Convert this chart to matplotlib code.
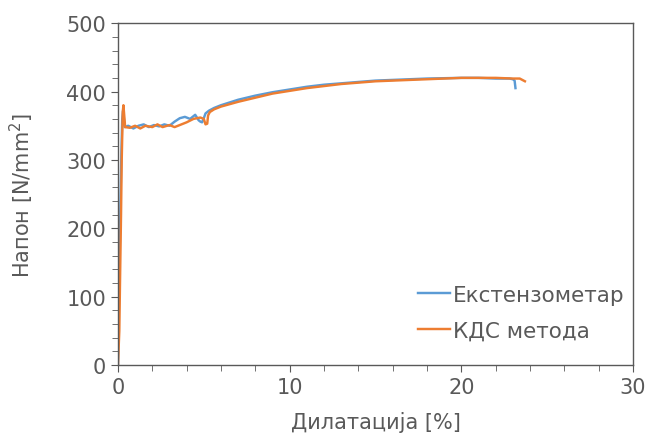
import numpy as np
import matplotlib.pyplot as plt
from matplotlib.ticker import MultipleLocator

# Екстензометар
ext_x = [0, 0.05, 0.1, 0.15, 0.2, 0.25, 0.3, 0.4, 0.6, 0.9, 1.2, 1.5, 1.8, 2.1, 2.4,
         2.7, 3.0, 3.3, 3.6, 3.9, 4.2, 4.5, 4.7, 4.8, 4.9, 5.0, 5.1, 5.3, 5.6, 6, 7,
         8, 9, 10, 11, 12, 13, 14, 15, 16, 17, 18, 19, 20, 21, 22, 22.8, 23.0,
         23.1, 23.15]
ext_y = [0, 80, 160, 240, 310, 360, 372, 348, 350, 346, 350, 352, 348, 351, 349,
         352, 350, 356, 361, 363, 360, 366, 358, 356, 355, 361, 368, 372, 376, 380,
         388, 394, 399, 403, 407, 410, 412, 414, 416, 417, 418, 419, 419.5, 420,
         420, 419, 419, 418, 416, 405]

# КДС метода
kds_x = [0, 0.08, 0.12, 0.18, 0.22, 0.28, 0.32, 0.42, 0.7, 1.0, 1.3, 1.6, 2.0,
         2.3, 2.6, 3.0, 3.3, 3.7, 4.0, 4.4, 4.8, 5.0, 5.1, 5.2, 5.25, 5.35, 5.6,
         6, 7, 8, 9, 10, 11, 12, 13, 14, 15, 16, 17, 18, 19, 20, 21, 22, 23,
         23.4, 23.7]
kds_y = [0, 50, 120, 220, 300, 370, 380, 348, 347, 350, 346, 350, 348, 352, 348,
         351, 348, 352, 355, 360, 362, 360, 352, 353, 365, 370, 374, 378, 385,
         391, 397, 401, 405, 408, 411, 413, 415, 416, 417, 418, 419, 420, 420,
         420, 419, 419, 415]

grey = "#595959"
plt.rcParams["font.family"] = "DejaVu Sans"

fig = plt.figure(figsize=(6.48, 4.39), dpi=100)
ax = fig.add_axes([0.182, 0.166, 0.795, 0.779])

ax.plot(ext_x, ext_y, color="#5B9BD5", lw=1.75, label="Екстензометар")
ax.plot(kds_x, kds_y, color="#ED7D31", lw=1.75, label="КДС метода")

ax.set_xlim(0, 30)
ax.set_ylim(0, 500)
ax.xaxis.set_major_locator(MultipleLocator(10))
ax.xaxis.set_minor_locator(MultipleLocator(2))
ax.yaxis.set_major_locator(MultipleLocator(100))
ax.yaxis.set_minor_locator(MultipleLocator(20))

for s in ax.spines.values():
    s.set_color(grey)
    s.set_linewidth(1.0)
ax.tick_params(which="both", colors=grey, labelsize=15, labelcolor=grey)
ax.tick_params(which="major", length=5)
ax.tick_params(which="minor", length=4)

ax.set_xlabel("Дилатација [%]", fontsize=15, color=grey, labelpad=10)
ax.set_ylabel("Напон [N/mm$^2$]", fontsize=15, color=grey, labelpad=22)

leg = ax.legend(loc="upper left", bbox_to_anchor=(0.566, 0.26), frameon=False,
                fontsize=15.5, handlelength=1.5, handletextpad=0.1,
                labelspacing=0.75, borderaxespad=0)
for t in leg.get_texts():
    t.set_color(grey)

fig.savefig("out.png", dpi=100)
